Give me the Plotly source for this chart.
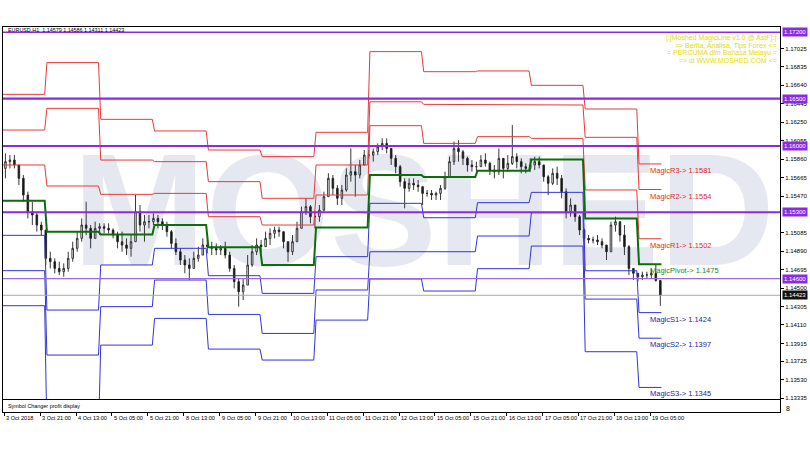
"""EURUSD H1 with Moshed MagicLine daily pivot levels (MT4 style screenshot)."""
import plotly.graph_objects as go

FONT = "Liberation Sans"

# ── Price candles (2-hour slots) ────────────────────────────────────
OPEN_FIRST = 1.15763
HIGH = [
    1.15922, 1.15904, 1.15904, 1.15799, 1.15693, 1.15517, 1.15411, 1.15306, 1.15200, 1.15112,
    1.14883, 1.14813, 1.14778, 1.14760, 1.14883, 1.14989, 1.15095, 1.15235, 1.15411, 1.15165,
    1.15200, 1.15183, 1.15183, 1.15183, 1.15130, 1.15095, 1.15095, 1.15024, 1.15059, 1.15482,
    1.15376, 1.15271, 1.15271, 1.15288, 1.15271, 1.15235, 1.15200, 1.15112, 1.15024, 1.14919,
    1.14848, 1.14813, 1.14883, 1.14936, 1.15024, 1.15007, 1.14989, 1.14971, 1.14954, 1.14989,
    1.14883, 1.14743, 1.14602, 1.14602, 1.14848, 1.14954, 1.15024, 1.15007, 1.15095, 1.15130,
    1.15147, 1.15147, 1.15095, 1.14989, 1.15059, 1.15200, 1.15359, 1.15447, 1.15376, 1.15306,
    1.15376, 1.15517, 1.15711, 1.15693, 1.15587, 1.15587, 1.15763, 1.15974, 1.15799, 1.15851,
    1.15957, 1.15957, 1.15974, 1.16027, 1.16080, 1.16080, 1.15974, 1.15904, 1.15799, 1.15658,
    1.15658, 1.15658, 1.15640, 1.15570, 1.15535, 1.15535, 1.15517, 1.15587, 1.15728, 1.15887,
    1.16045, 1.16062, 1.15957, 1.15887, 1.15851, 1.15834, 1.15904, 1.15922, 1.15834, 1.15799,
    1.15974, 1.15869, 1.15904, 1.16221, 1.15922, 1.15869, 1.15816, 1.15869, 1.15887, 1.15887,
    1.15799, 1.15693, 1.15763, 1.15781, 1.15693, 1.15552, 1.15447, 1.15376, 1.15271, 1.15130,
    1.15059, 1.15042, 1.15059, 1.15024, 1.14954, 1.15200, 1.15253, 1.15200, 1.15165, 1.14954,
    1.14707, 1.14655, 1.14672, 1.14672, 1.14707, 1.14743, 1.14586,
]
LOW = [
    1.15658, 1.15763, 1.15763, 1.15587, 1.15411, 1.15235, 1.15165, 1.15095, 1.15059, 1.14743,
    1.14707, 1.14655, 1.14637, 1.14619, 1.14672, 1.14778, 1.14883, 1.14989, 1.15059, 1.14919,
    1.15024, 1.15059, 1.15077, 1.15077, 1.15024, 1.14919, 1.14883, 1.14848, 1.14831, 1.14989,
    1.15095, 1.14989, 1.15130, 1.15165, 1.15130, 1.15112, 1.15042, 1.14919, 1.14848, 1.14743,
    1.14655, 1.14584, 1.14707, 1.14778, 1.14848, 1.14866, 1.14848, 1.14848, 1.14848, 1.14813,
    1.14672, 1.14496, 1.14303, 1.14373, 1.14531, 1.14725, 1.14848, 1.14866, 1.14936, 1.14954,
    1.15024, 1.15042, 1.14919, 1.14778, 1.14848, 1.14989, 1.15130, 1.15271, 1.15183, 1.15130,
    1.15200, 1.15306, 1.15464, 1.15482, 1.15376, 1.15376, 1.15517, 1.15623, 1.15464, 1.15658,
    1.15799, 1.15869, 1.15834, 1.15904, 1.15957, 1.15922, 1.15799, 1.15711, 1.15570, 1.15341,
    1.15517, 1.15535, 1.15517, 1.15376, 1.15464, 1.15429, 1.15429, 1.15429, 1.15535, 1.15675,
    1.15799, 1.15834, 1.15799, 1.15728, 1.15728, 1.15728, 1.15781, 1.15781, 1.15693, 1.15658,
    1.15693, 1.15658, 1.15728, 1.15799, 1.15763, 1.15711, 1.15711, 1.15728, 1.15746, 1.15763,
    1.15623, 1.15482, 1.15587, 1.15587, 1.15447, 1.15235, 1.15253, 1.15200, 1.15059, 1.14989,
    1.14971, 1.14971, 1.14954, 1.14919, 1.14795, 1.14883, 1.15095, 1.14989, 1.14848, 1.14637,
    1.14584, 1.14567, 1.14584, 1.14602, 1.14602, 1.14567, 1.14311,
]
CLOSE = [
    1.15834, 1.15851, 1.15799, 1.15658, 1.15482, 1.15306, 1.15271, 1.15165, 1.15112, 1.14813,
    1.14778, 1.14707, 1.14672, 1.14707, 1.14813, 1.14919, 1.15024, 1.15165, 1.15130, 1.15024,
    1.15130, 1.15147, 1.15130, 1.15112, 1.15059, 1.14989, 1.14954, 1.14919, 1.14989, 1.15306,
    1.15165, 1.15200, 1.15200, 1.15235, 1.15200, 1.15165, 1.15095, 1.14971, 1.14883, 1.14795,
    1.14743, 1.14707, 1.14813, 1.14848, 1.14954, 1.14936, 1.14919, 1.14901, 1.14919, 1.14848,
    1.14707, 1.14567, 1.14461, 1.14531, 1.14743, 1.14883, 1.14954, 1.14936, 1.15024, 1.15077,
    1.15112, 1.15095, 1.14989, 1.14883, 1.14989, 1.15130, 1.15306, 1.15359, 1.15253, 1.15253,
    1.15323, 1.15464, 1.15658, 1.15552, 1.15447, 1.15535, 1.15693, 1.15728, 1.15693, 1.15799,
    1.15904, 1.15904, 1.15939, 1.15992, 1.16027, 1.15974, 1.15869, 1.15781, 1.15623, 1.15552,
    1.15605, 1.15587, 1.15570, 1.15499, 1.15499, 1.15482, 1.15499, 1.15552, 1.15675, 1.15834,
    1.15974, 1.15939, 1.15869, 1.15799, 1.15781, 1.15781, 1.15851, 1.15816, 1.15746, 1.15728,
    1.15869, 1.15763, 1.15816, 1.15887, 1.15834, 1.15781, 1.15763, 1.15799, 1.15834, 1.15799,
    1.15675, 1.15605, 1.15711, 1.15658, 1.15517, 1.15306, 1.15376, 1.15253, 1.15112, 1.15024,
    1.15007, 1.15007, 1.14989, 1.14954, 1.14883, 1.15165, 1.15200, 1.15059, 1.14936, 1.14707,
    1.14655, 1.14619, 1.14637, 1.14637, 1.14655, 1.14579, 1.14423,
]
HOURS_PER_SLOT = 2

# ── Daily MagicLine levels (one value per trading day) ──────────────
DAY_START = [0, 19, 43, 67, 91, 115, 139, 163, 187, 211, 235, 259, 283]
LAST_BAR = 293
R3 = [1.16545, 1.16880, 1.16281, 1.16158, 1.15957, 1.15887, 1.16144,
      1.16996, 1.16784, 1.16792, 1.16640, 1.16390, 1.1581]
R2 = [1.16168, 1.16397, 1.15851, 1.15834, 1.15623, 1.15447, 1.15799,
      1.16466, 1.16439, 1.16432, 1.16432, 1.16091, 1.1554]
R1 = [1.15799, 1.15577, 1.15489, 1.15499, 1.15253, 1.15165, 1.15482,
      1.16214, 1.16027, 1.16098, 1.16080, 1.15535, 1.1502]
PIVOT = [1.15422, 1.15095, 1.15066, 1.15165, 1.14929, 1.14743, 1.15140,
         1.15693, 1.15672, 1.15739, 1.15858, 1.15235, 1.1475]
S1 = [1.15056, 1.14267, 1.14743, 1.14919, 1.14630, 1.14443, 1.14831,
      1.15394, 1.15242, 1.15401, 1.15510, 1.14682, 1.1424]
S2 = [1.14683, 1.13792, 1.14303, 1.14584, 1.14221, 1.14020, 1.14479,
      1.14883, 1.14883, 1.15049, 1.15295, 1.14383, 1.1397]
S3 = [1.14313, 1.12971, 1.13897, 1.14179, 1.13855, 1.13739, 1.14161,
      1.14595, 1.14468, 1.14704, 1.14943, 1.13827, 1.1345]

# ── Horizontal objects and axes ─────────────────────────────────────
LEVEL_LINES = [1.17200, 1.16500, 1.16000, 1.15300, 1.14600]
LEVEL_WIDTHS = [1.5, 2.2, 2, 2, 1.2]
CURRENT_PRICE = 1.14423
Y_TICKS = [1.17025, 1.16835, 1.16640, 1.16445, 1.16250, 1.16055, 1.15860,
           1.15665, 1.15470, 1.15085, 1.14890, 1.14695, 1.14500, 1.14305,
           1.14110, 1.13915, 1.13725, 1.13530, 1.13335]
X_LABEL_BARS = [0, 16, 32, 48, 64, 80, 96, 112, 128, 144, 160, 176, 192,
                208, 224, 240, 256, 272, 288]
X_LABELS = ["3 Oct 2018", "3 Oct 21:00", "4 Oct 13:00", "5 Oct 05:00",
            "5 Oct 21:00", "8 Oct 13:00", "9 Oct 05:00", "9 Oct 21:00",
            "10 Oct 13:00", "11 Oct 05:00", "11 Oct 21:00", "12 Oct 13:00",
            "15 Oct 05:00", "15 Oct 21:00", "16 Oct 13:00", "17 Oct 05:00",
            "17 Oct 21:00", "18 Oct 13:00", "19 Oct 05:00"]
HEADER = "EURUSD,H1  1.14579 1.14586 1.14311 1.14423"
PROMO = ["|:[Moshed MagicLine v1.0 @ AstF]:|",
         "=> Berita, Analisa, Tips Forex <=",
         "= PERCUMA dlm Bahasa Melayu =",
         "=> di WWW.MOSHED.COM <="]

X_RANGE = [-0.58, 345.86]
Y_RANGE = [1.13328, 1.17256]

RED = "#e83a3a"
BLUE = "#3434d8"
GREEN = "#0b6e0b"
PURPLE = "#8a2be2"


def _step(levels):
    xs, ys = [], []
    for d, v in enumerate(levels):
        start = DAY_START[d] if d else -2
        end = DAY_START[d + 1] - 1 if d + 1 < len(DAY_START) else LAST_BAR
        xs += [start, end]
        ys += [v, v]
    return xs, ys


fig = go.Figure()

# watermark on the base axes; chart content lives on an overlay on top of it
fig.add_trace(go.Scatter(
    x=[187], y=[1.1517], mode="text", text=["MOSHED"],
    textfont=dict(size=160, color="#e5e8f0", family=FONT, weight="bold"),
    hoverinfo="skip", showlegend=False,
))

x_slots = [HOURS_PER_SLOT * k + 0.5 for k in range(len(CLOSE))]
opens = [OPEN_FIRST] + CLOSE[:-1]
fig.add_trace(go.Candlestick(
    x=x_slots, open=opens, high=HIGH, low=LOW, close=CLOSE,
    xaxis="x3", yaxis="y3",
    increasing=dict(line=dict(color="#222222", width=0.9), fillcolor="#ffffff"),
    decreasing=dict(line=dict(color="#222222", width=0.9), fillcolor="#111111"),
    whiskerwidth=0, showlegend=False, hoverinfo="skip",
))

for levels, color, width in [(R3, RED, 1), (R2, RED, 1), (R1, RED, 1),
                             (S1, BLUE, 1), (S2, BLUE, 1), (S3, BLUE, 1),
                             (PIVOT, GREEN, 2)]:
    xs, ys = _step(levels)
    fig.add_trace(go.Scatter(x=xs, y=ys, mode="lines", xaxis="x3", yaxis="y3",
                             line=dict(color=color, width=width),
                             hoverinfo="skip", showlegend=False))

# labels for the current day
labels = [("MagicR3", R3, "#e02a2a"), ("MagicR2", R2, "#e02a2a"),
          ("MagicR1", R1, "#e02a2a"), ("MagicPivot", PIVOT, "#1c8a1c"),
          ("MagicS1", S1, "#2424a8"), ("MagicS2", S2, "#2424a8"),
          ("MagicS3", S3, "#2424a8")]
for name, levels, color in labels:
    fig.add_annotation(
        x=287, y=levels[-1], xref="x", yref="y", showarrow=False,
        text=f"{name}-> {levels[-1]:.4f}", xanchor="left", yanchor="top",
        font=dict(size=7.5, color=color, family=FONT),
    )

# horizontal objects
for lvl, w in zip(LEVEL_LINES, LEVEL_WIDTHS):
    fig.add_shape(type="line", xref="paper", x0=0, x1=1, yref="y", y0=lvl, y1=lvl,
                  line=dict(color=PURPLE if lvl != 1.146 else "#9d6ad8", width=w))
    fig.add_annotation(
        xref="paper", x=1, xanchor="left", xshift=2, yref="y", y=lvl,
        text=f"{lvl:.5f}", showarrow=False, bgcolor=PURPLE, borderpad=1,
        font=dict(size=6, color="white", family=FONT),
    )
fig.add_shape(type="line", xref="paper", x0=0, x1=1, yref="y",
              y0=CURRENT_PRICE, y1=CURRENT_PRICE,
              line=dict(color="#aaaaaa", width=1))
fig.add_annotation(
    xref="paper", x=1, xanchor="left", xshift=2, yref="y", y=CURRENT_PRICE,
    text=f"{CURRENT_PRICE:.5f}", showarrow=False, bgcolor="#111111", borderpad=1,
    font=dict(size=6, color="white", family=FONT),
)

# header + promo text
fig.add_annotation(xref="paper", yref="paper", x=0.004, y=0.9935, xanchor="left",
                   yanchor="middle", text=HEADER, showarrow=False,
                   font=dict(size=5.4, color="black", family=FONT))
for i, line in enumerate(PROMO):
    fig.add_annotation(xref="paper", yref="paper", x=1, xshift=-1,
                       y=0.9706 - i * 0.0192, xanchor="right", yanchor="middle",
                       text=line, showarrow=False,
                       font=dict(size=7, color="#e6dc00", family=FONT))

# sub window + time labels
fig.add_annotation(xref="paper", yref="paper", x=0.004, y=0.0156, xanchor="left",
                   yanchor="middle", text="Symbol Changer profit display",
                   showarrow=False, font=dict(size=5.4, color="black", family=FONT))
fig.add_annotation(xref="paper", yref="paper", x=1, xshift=4, y=0.008,
                   xanchor="left", yanchor="middle", text="8", showarrow=False,
                   font=dict(size=7, color="black", family=FONT))
for bar, lab in zip(X_LABEL_BARS, X_LABELS):
    fig.add_annotation(xref="x2", yref="paper", x=bar, y=-0.0156, xanchor="left",
                       yanchor="middle", xshift=0, text=lab, showarrow=False,
                       font=dict(size=5.6, color="black", family=FONT))

fig.update_layout(
    width=810, height=450,
    margin=dict(l=2, r=28, t=27, b=38),
    paper_bgcolor="white", plot_bgcolor="white",
    showlegend=False,
    boxgap=0.5,
    xaxis=dict(domain=[0, 1], anchor="y", range=X_RANGE, showticklabels=False,
               ticks="", showgrid=False, zeroline=False, showline=True,
               mirror=True, linecolor="black", linewidth=1),
    yaxis=dict(domain=[0.0338, 1], anchor="x", side="right", range=Y_RANGE,
               tickvals=Y_TICKS, ticktext=[f"{v:.5f}" for v in Y_TICKS],
               ticks="outside", ticklen=3, tickcolor="black",
               tickfont=dict(size=6, color="black", family=FONT),
               showgrid=False, zeroline=False, showline=True, mirror=True,
               linecolor="black", linewidth=1),
    xaxis3=dict(overlaying="x", range=X_RANGE, visible=False,
                rangeslider=dict(visible=False)),
    yaxis3=dict(overlaying="y", range=Y_RANGE, visible=False),
    xaxis2=dict(domain=[0, 1], anchor="y2", range=X_RANGE, tickvals=X_LABEL_BARS,
                showticklabels=False, ticks="outside", ticklen=3,
                tickcolor="black", showgrid=False, zeroline=False,
                showline=True, mirror=True, linecolor="black", linewidth=1),
    yaxis2=dict(domain=[0, 0.0312], anchor="x2", range=[0, 1],
                showticklabels=False, ticks="", showgrid=False, zeroline=False,
                showline=True, mirror=True, linecolor="black", linewidth=1),
)

fig.write_html("out.html", config={"displayModeBar": False},
               post_script="document.body.style.margin = '0px';")
